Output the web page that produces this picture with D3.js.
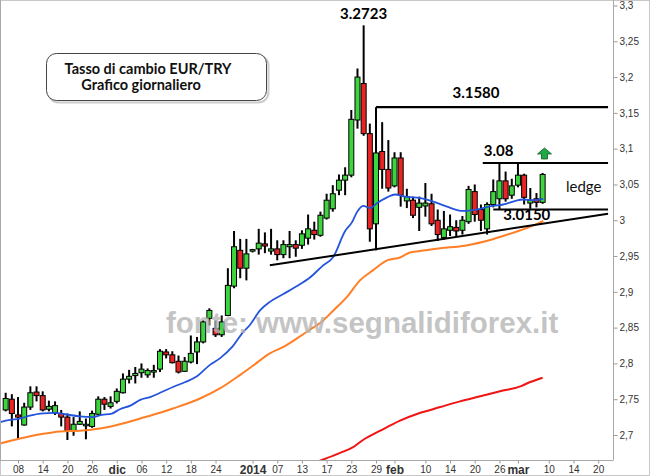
<!DOCTYPE html>
<html><head><meta charset="utf-8">
<script src="https://cdn.jsdelivr.net/npm/d3@7"></script>
<style>body{margin:0;background:#fff;} svg{display:block;}</style>
</head><body>
<svg id="c" width="650" height="476"></svg>
<script>
// ---- data (trading-day index, EUR/TRY daily) ----
const firstIdx = -2;
const opens  = [2.735,2.750,2.728,2.714,2.739,2.760,2.755,2.736,2.731,2.730,2.725,2.706,2.715,2.713,2.712,2.729,2.750,2.740,2.747,2.759,2.778,2.783,2.787,2.784,2.789,2.792,2.816,2.812,2.803,2.789,2.802,2.816,2.830,2.863,2.849,2.840,2.867,2.908,2.958,2.933,2.958,2.960,2.967,2.957,2.960,2.952,2.963,2.966,2.965,2.975,2.986,2.979,3.003,3.016,3.042,3.056,3.063,3.140,3.191,3.121,2.995,3.096,3.071,3.048,3.087,3.027,3.028,3.018,3.020,3.023,3.000,2.976,2.986,2.990,2.986,2.998,3.040,3.015,2.988,3.022,3.030,3.055,3.035,3.049,3.063,3.024,3.030,3.025];
const highs  = [2.759,2.757,2.753,2.745,2.768,2.768,2.761,2.748,2.747,2.735,2.730,2.725,2.733,2.723,2.734,2.754,2.753,2.754,2.765,2.786,2.791,2.795,2.800,2.793,2.798,2.820,2.820,2.817,2.811,2.809,2.839,2.837,2.860,2.877,2.860,2.867,2.933,2.985,2.974,2.974,2.960,2.988,2.983,2.988,2.972,2.972,2.985,2.972,2.986,3.008,2.998,3.012,3.037,3.049,3.064,3.074,3.154,3.212,3.2723,3.135,3.158,3.137,3.112,3.095,3.095,3.044,3.033,3.033,3.052,3.037,3.015,3.013,3.008,3.000,3.006,3.048,3.050,3.022,3.025,3.057,3.080,3.068,3.058,3.080,3.065,3.045,3.038,3.066];
const lows   = [2.733,2.712,2.695,2.713,2.735,2.747,2.733,2.733,2.728,2.712,2.693,2.699,2.714,2.694,2.710,2.728,2.735,2.737,2.744,2.758,2.772,2.772,2.780,2.780,2.780,2.788,2.807,2.800,2.786,2.788,2.800,2.799,2.828,2.853,2.837,2.837,2.866,2.905,2.919,2.916,2.955,2.952,2.954,2.952,2.944,2.947,2.947,2.949,2.960,2.966,2.973,2.977,3.001,3.012,3.035,3.035,3.060,3.128,3.118,2.970,2.958,3.044,3.040,3.046,3.019,3.017,3.003,2.985,3.005,2.992,2.971,2.973,2.978,2.977,2.980,2.995,2.998,2.985,2.980,3.018,3.015,3.026,3.030,3.046,3.022,3.016,3.018,3.023];
const closes = [2.751,2.730,2.725,2.739,2.759,2.755,2.735,2.740,2.741,2.725,2.706,2.715,2.719,2.715,2.730,2.750,2.743,2.745,2.761,2.778,2.782,2.786,2.792,2.790,2.790,2.817,2.812,2.801,2.788,2.803,2.814,2.830,2.858,2.874,2.840,2.858,2.909,2.963,2.933,2.953,2.959,2.968,2.964,2.960,2.952,2.966,2.966,2.961,2.981,2.988,2.980,3.007,3.028,3.037,3.056,3.063,3.141,3.200,3.121,2.988,3.094,3.071,3.045,3.087,3.035,3.033,3.007,3.024,3.024,2.995,2.980,2.988,2.991,2.985,3.000,3.043,3.008,3.000,3.022,3.040,3.055,3.030,3.048,3.063,3.032,3.028,3.025,3.064];

// moving averages: [index, value]
const maBlue = [[-2.92,2.718],[-1.3,2.721],[0.3,2.723],[1.9,2.727],[3.6,2.730],[6.0,2.731],[7.6,2.729],[10.0,2.726],[12.0,2.725],[13.6,2.728],[15.2,2.730],[16.5,2.736],[18.2,2.741],[19.8,2.749],[21.4,2.753],[23.3,2.760],[25.1,2.767],[27.1,2.774],[29.0,2.782],[31.1,2.798],[32.7,2.807],[34.7,2.823],[36.5,2.844],[37.6,2.854],[39.2,2.874],[40.8,2.886],[43.0,2.897],[45.2,2.908],[47.3,2.920],[49.3,2.936],[51.1,2.949],[53.0,2.985],[54.1,2.997],[54.9,3.011],[55.9,3.020],[57.1,3.017],[58.2,3.024],[59.8,3.032],[61.1,3.036],[62.7,3.033],[65.2,3.031],[67.3,3.026],[69.5,3.019],[72.1,3.013],[74.9,3.016],[76.8,3.020],[78.6,3.022],[80.6,3.027],[81.8,3.029],[83.5,3.028],[85.1,3.030]];
const maOrange = [[-2.92,2.688],[0.3,2.695],[3.6,2.701],[6.8,2.705],[10.0,2.706],[13.3,2.709],[16.5,2.715],[19.8,2.723],[23.0,2.731],[25.1,2.737],[29.5,2.751],[32.7,2.765],[36.0,2.784],[38.1,2.797],[40.8,2.814],[43.0,2.823],[45.2,2.835],[47.3,2.847],[49.3,2.859],[51.1,2.874],[53.3,2.893],[55.4,2.916],[57.5,2.930],[59.8,2.944],[61.9,2.948],[63.5,2.955],[66.0,2.958],[68.4,2.961],[72.1,2.964],[75.4,2.970],[78.6,2.978],[81.4,2.986],[84.1,2.995],[85.1,2.999]];
const maRed = [[48.9,2.664],[52.2,2.675],[54.3,2.683],[55.9,2.693],[58.7,2.706],[61.9,2.720],[65.2,2.731],[68.4,2.739],[71.6,2.747],[74.9,2.754],[78.1,2.761],[81.4,2.768],[83.0,2.774],[85.0,2.780]];

// axis ticks
const yTicks = [2.7,2.75,2.8,2.85,2.9,2.95,3.0,3.05,3.1,3.15,3.2,3.25,3.3];
const xTickIdx = [0,4,8,12,16,20,24,28,32,38,42,46,50,54,58,61,66,70,74,78,81,86,90,94];
const xTickLabels = ["08","14","20","26","dic","06","12","18","24","2014","07","13","17","23","29","feb","10","14","20","26","mar","10","14","20"];
const boldLabels = ["dic","2014","feb","mar"];

// annotations
const peak = {idx:56, value:3.2723, label:"3.2723"};
const levels = [
  {from:58, to:95.6, value:3.158, label:"3.1580"},
  {from:75.3, to:95.6, value:3.08, label:"3.08"},
  {from:77, to:95.6, value:3.015, label:"3.0150"}
];
const trend = [[40.8,2.937],[95.6,3.009]];

// ---- drawing ----
const svg = d3.select('#c');
const x = d3.scaleLinear().domain([-2.92, 96.4]).range([0, 613]);
const y = d3.scaleLinear().domain([2.7, 3.3]).range([435, 5.5]);

svg.append('rect').attr('x',0.5).attr('y',0.5).attr('width',649).attr('height',475)
  .attr('fill','#fff').attr('stroke','#c8c8c8');

svg.append('defs').append('clipPath').attr('id','clip')
  .append('rect').attr('x',0).attr('y',0).attr('width',613).attr('height',460);
const plot = svg.append('g').attr('clip-path','url(#clip)');

const candles = opens.map((o,i)=>({i:i+firstIdx,o,h:highs[i],l:lows[i],c:closes[i]}));

plot.append('g').selectAll('line').data(candles).join('line')
  .attr('x1',d=>x(d.i)).attr('x2',d=>x(d.i))
  .attr('y1',d=>y(d.h)).attr('y2',d=>y(d.l))
  .attr('stroke','#000').attr('stroke-width',2);
plot.append('g').selectAll('rect').data(candles).join('rect')
  .attr('x',d=>x(d.i)-2.5).attr('width',5)
  .attr('y',d=>y(Math.max(d.o,d.c)))
  .attr('height',d=>Math.max(1.5,Math.abs(y(d.o)-y(d.c))))
  .attr('fill',d=>d.c>=d.o?'#3ed43e':'#e82424')
  .attr('stroke','#000').attr('stroke-width',1);

const line = d3.line().x(d=>x(d[0])).y(d=>y(d[1])).curve(d3.curveMonotoneX);
plot.append('path').datum(maRed).attr('d',line).attr('fill','none').attr('stroke','#f01414').attr('stroke-width',2);
plot.append('path').datum(maOrange).attr('d',line).attr('fill','none').attr('stroke','#ff7f27').attr('stroke-width',2);
plot.append('path').datum(maBlue).attr('d',line).attr('fill','none').attr('stroke','#2554dc').attr('stroke-width',1.8);

// trend line and levels
plot.append('line').attr('x1',x(trend[0][0])).attr('y1',y(trend[0][1]))
  .attr('x2',x(trend[1][0])).attr('y2',y(trend[1][1]))
  .attr('stroke','#000').attr('stroke-width',2);
plot.append('g').selectAll('line').data(levels).join('line')
  .attr('x1',d=>x(d.from)).attr('x2',d=>x(d.to))
  .attr('y1',d=>y(d.value)).attr('y2',d=>y(d.value))
  .attr('stroke','#000').attr('stroke-width',2.2);

const annFont = "Lato, 'Liberation Sans', sans-serif";
svg.append('text').attr('x',x(peak.idx)).attr('y',19).attr('text-anchor','middle')
  .attr('font-family',annFont).attr('font-weight','bold').attr('font-size',15).text(peak.label);
svg.append('text').attr('x',x(levels[0].from)+100).attr('y',y(levels[0].value)-9).attr('text-anchor','middle')
  .attr('font-family',annFont).attr('font-weight','bold').attr('font-size',15).text(levels[0].label);
svg.append('text').attr('x',x(levels[1].from)+1).attr('y',y(levels[1].value)-7)
  .attr('font-family',annFont).attr('font-weight','bold').attr('font-size',15).text(levels[1].label);
svg.append('text').attr('x',x(levels[2].from)+10).attr('y',y(levels[2].value)+10)
  .attr('font-family',annFont).attr('font-weight','bold').attr('font-size',15).text(levels[2].label);
svg.append('text').attr('x',566).attr('y',192)
  .attr('font-family',annFont).attr('font-size',15).attr('fill','#111').text('ledge');

// green up arrow
const ax = x(85.3), ay = y(3.08)-15;
svg.append('path')
  .attr('d',`M${ax},${ay} L${ax+7},${ay+6} L${ax+3},${ay+6} L${ax+3},${ay+11} L${ax-3},${ay+11} L${ax-3},${ay+6} L${ax-7},${ay+6} Z`)
  .attr('fill','#1faa45').attr('stroke','#0d5a22').attr('stroke-width',0.8);

// axes
const yAxis = d3.axisRight(y).tickValues(yTicks).tickSize(4)
  .tickFormat(d=>d3.format('.2~f')(d).replace('.',','));
const gy = svg.append('g').attr('transform','translate(613.5,0)').call(yAxis);
gy.select('.domain').remove();
gy.selectAll('line').attr('stroke','#999');
gy.selectAll('text').attr('font-family',"'Liberation Sans', Arial, sans-serif").attr('font-size',10).attr('fill','#333').attr('x',6);
svg.append('line').attr('x1',613.5).attr('x2',613.5).attr('y1',0).attr('y2',460).attr('stroke','#a8a8a8');

const xAxis = d3.axisBottom(x).tickValues(xTickIdx).tickSize(3)
  .tickFormat((d,i)=>xTickLabels[i]);
const gx = svg.append('g').attr('transform','translate(0,460.5)').call(xAxis);
gx.select('.domain').remove();
gx.selectAll('line').attr('stroke','#999');
gx.selectAll('text').attr('font-family',"'Liberation Sans', Arial, sans-serif")
  .attr('font-size',d=>boldLabels.includes(xTickLabels[xTickIdx.indexOf(d)])?12:10)
  .attr('font-weight',d=>boldLabels.includes(xTickLabels[xTickIdx.indexOf(d)])?'bold':'normal')
  .attr('fill','#333').attr('y',5);
svg.append('line').attr('x1',0).attr('x2',613.5).attr('y1',460.5).attr('y2',460.5).attr('stroke','#a8a8a8');
svg.append('line').attr('x1',0.5).attr('x2',0.5).attr('y1',0).attr('y2',460).attr('stroke','#a8a8a8');

// title box
svg.append('rect').attr('x',47.5).attr('y',54.5).attr('width',220).attr('height',47).attr('rx',10)
  .attr('fill','none').attr('stroke','#ccc').attr('stroke-width',2).attr('transform','translate(1,1)');
svg.append('rect').attr('x',46.5).attr('y',53.5).attr('width',220).attr('height',47).attr('rx',10)
  .attr('fill','#fff').attr('stroke','#444').attr('stroke-width',1);
svg.append('text').attr('x',148).attr('y',73.5).attr('text-anchor','middle')
  .attr('font-family',annFont).attr('font-weight','bold').attr('font-size',14.5).attr('fill','#111')
  .text('Tasso di cambio EUR/TRY');
svg.append('text').attr('x',141).attr('y',89.5).attr('text-anchor','middle')
  .attr('font-family',annFont).attr('font-weight','bold').attr('font-size',14.5).attr('fill','#111')
  .text('Grafico giornaliero');

// watermark
svg.append('text').attr('x',166).attr('y',333)
  .attr('font-family',"'Liberation Sans', Arial, sans-serif").attr('font-weight','bold')
  .attr('font-size',29.5).attr('fill','#b4b4b4').attr('fill-opacity',0.8)
  .text('fonte: www.segnalidiforex.it');
</script>
</body></html>
